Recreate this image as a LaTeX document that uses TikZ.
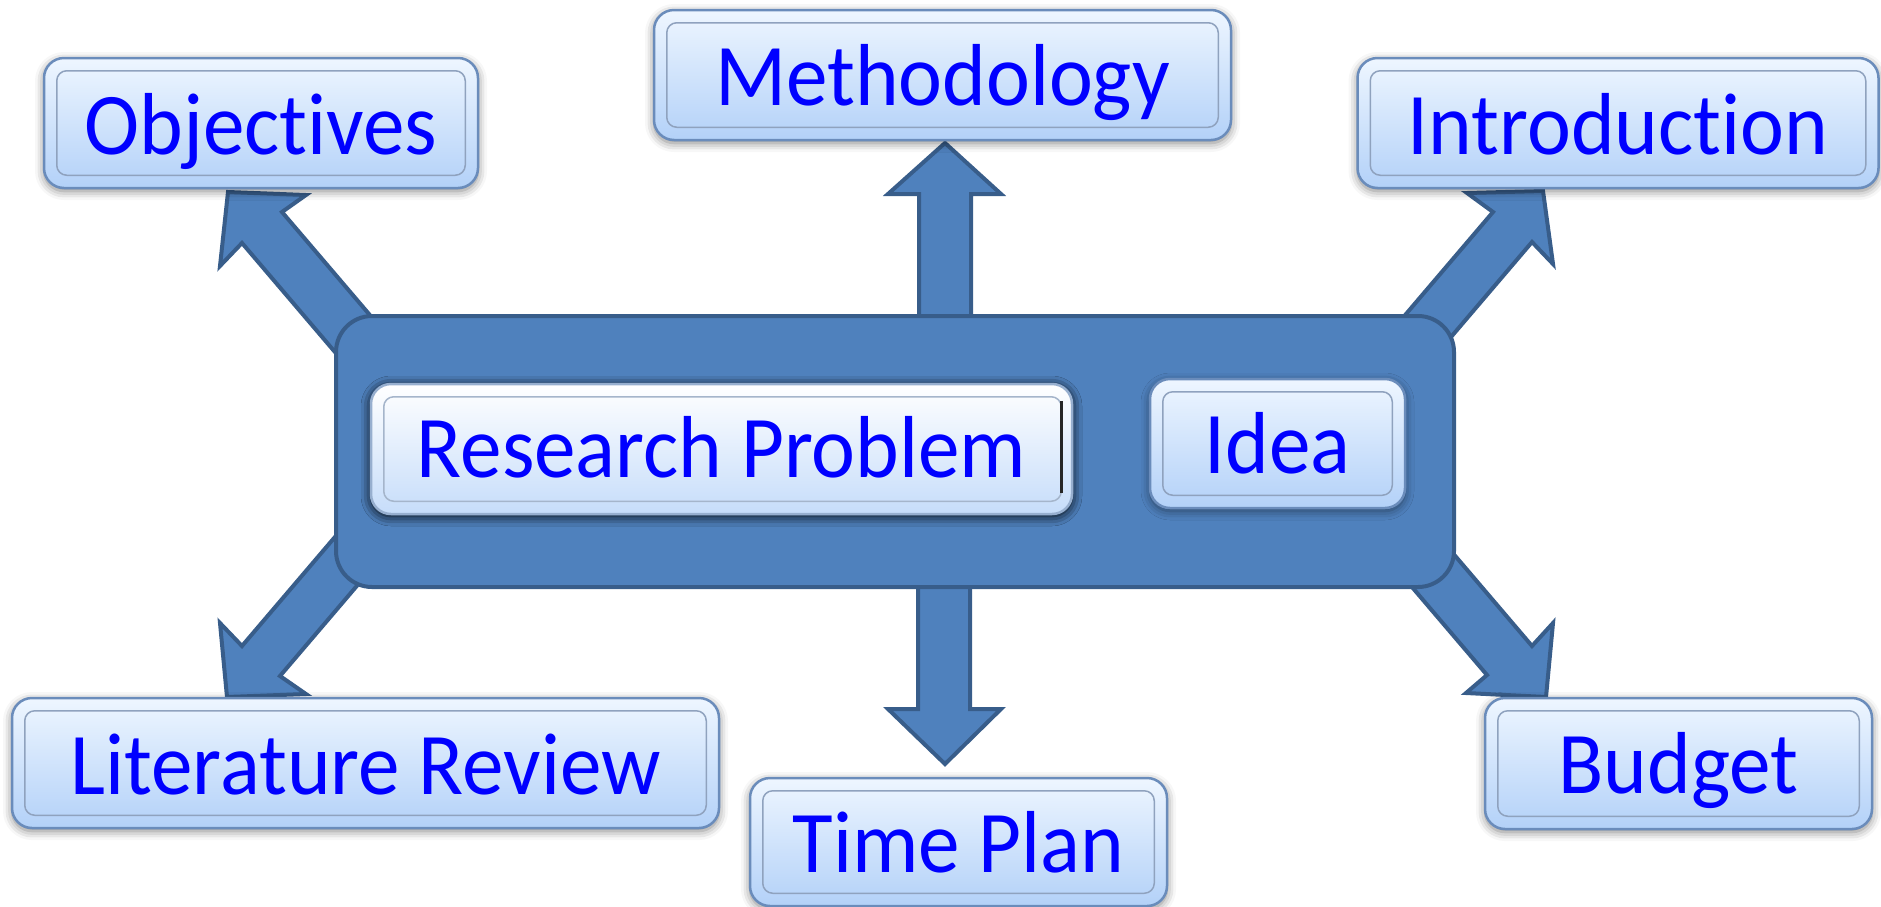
\documentclass[tikz,border=0pt]{standalone}
\usepackage{fontspec}
\setmainfont{Carlito}[Ligatures=NoCommon]
\usetikzlibrary{shadows.blur}
\definecolor{cfill}{HTML}{4F81BD}
\definecolor{cline}{HTML}{385D8A}
\definecolor{btop}{HTML}{EEF6FF}
\definecolor{bbot}{HTML}{B3D1F8}
\definecolor{bline}{HTML}{6A8CBB}
\definecolor{iline}{HTML}{8FA2BE}
\definecolor{tblue}{RGB}{0,0,255}
\newcommand{\lbl}[1]{\scalebox{0.945}[1]{#1}}
\newcommand{\insetline}[1]{\draw[inset] ([shift={(14pt,-14pt)}]#1.north west) rectangle ([shift={(-14pt,14pt)}]#1.south east);}
\begin{document}
\begin{tikzpicture}[x=1pt,y=-1pt,
  blockarrow/.style={fill=cfill, draw=cline, line width=4pt, line join=miter},
  hub/.style={fill=cfill, draw=cline, line width=4pt, rounded corners=36pt},
  topicbox/.style={draw=bline, line width=2.5pt, rounded corners=20pt,
    top color=btop, bottom color=bbot,
    blur shadow={shadow xshift=0pt, shadow yshift=-3pt, shadow blur radius=9pt, shadow opacity=50},
    text=tblue, font=\fontsize{88}{90}\selectfont,
    text height=62pt, text depth=0pt, inner sep=0pt},
  inset/.style={draw=iline, line width=1.5pt, rounded corners=10pt},
  ]
\useasboundingbox (0,0) rectangle (1881,906);

% block arrows
\draw[blockarrow] (392,341) -- (282,212) -- (306,195) -- (228,192) -- (220,266) -- (242,243) -- (352,372) -- cycle;
\draw[blockarrow] (1383,341) -- (1493,212) -- (1467,193) -- (1543,191) -- (1553,264) -- (1532,242) -- (1422,371) -- cycle;
\draw[blockarrow] (352,517) -- (242,646) -- (220,623) -- (227,697) -- (306,694) -- (280,676) -- (390,547) -- cycle;
\draw[blockarrow] (1422,517) -- (1532,646) -- (1553,623) -- (1546,697) -- (1466,693) -- (1487,675) -- (1377,546) -- cycle;
\draw[blockarrow] (919,340) -- (919,194) -- (888,194) -- (945,143) -- (1001,194) -- (971,194) -- (971,340) -- cycle;
\draw[blockarrow] (918,560) -- (918,709) -- (888,709) -- (945,764) -- (1001,709) -- (970,709) -- (970,560) -- cycle;

% central hub
\draw[hub] (336,316) rectangle (1454,587);

% inner boxes
\node[topicbox, top color=white, bottom color=bbot!75, draw=bline!70,
      minimum width=701pt, minimum height=130pt, text height=56pt,
      blur shadow={shadow xshift=0pt, shadow yshift=-2pt, shadow blur radius=10pt, shadow opacity=60}]
  (rp) at (721.5,449) {\lbl{Research Problem}};
\draw[inset, draw=iline!80] ([shift={(14pt,-14pt)}]rp.north west) rectangle ([shift={(-12pt,14pt)}]rp.south east);
\draw[line width=3.5pt, black!85] ([shift={(-12pt,-18pt)}]rp.north east) -- ([shift={(-12pt,22pt)}]rp.south east);

\node[topicbox, minimum width=255pt, minimum height=129pt, text height=59pt] (idea) at (1277.5,443.5) {\lbl{Idea}};
\insetline{idea}

% outer boxes
\node[topicbox, minimum width=434pt, minimum height=130pt] (obj) at (261,123) {\lbl{Objectives}};
\insetline{obj}
\node[topicbox, minimum width=577pt, minimum height=130pt, text height=60pt] (meth) at (942.5,75) {\lbl{Methodology}};
\insetline{meth}
\node[topicbox, minimum width=521pt, minimum height=130pt] (intro) at (1618,123) {\lbl{Introduction}};
\insetline{intro}
\node[topicbox, minimum width=707pt, minimum height=130pt] (lit) at (365.5,763) {\lbl{Literature Review}};
\insetline{lit}
\node[topicbox, minimum width=417pt, minimum height=128pt, text height=60pt] (time) at (958.5,842) {\lbl{Time Plan}};
\insetline{time}
\node[topicbox, minimum width=387pt, minimum height=131pt, text height=60pt] (budget) at (1678.5,763.5) {\lbl{Budget}};
\insetline{budget}
\end{tikzpicture}
\end{document}
